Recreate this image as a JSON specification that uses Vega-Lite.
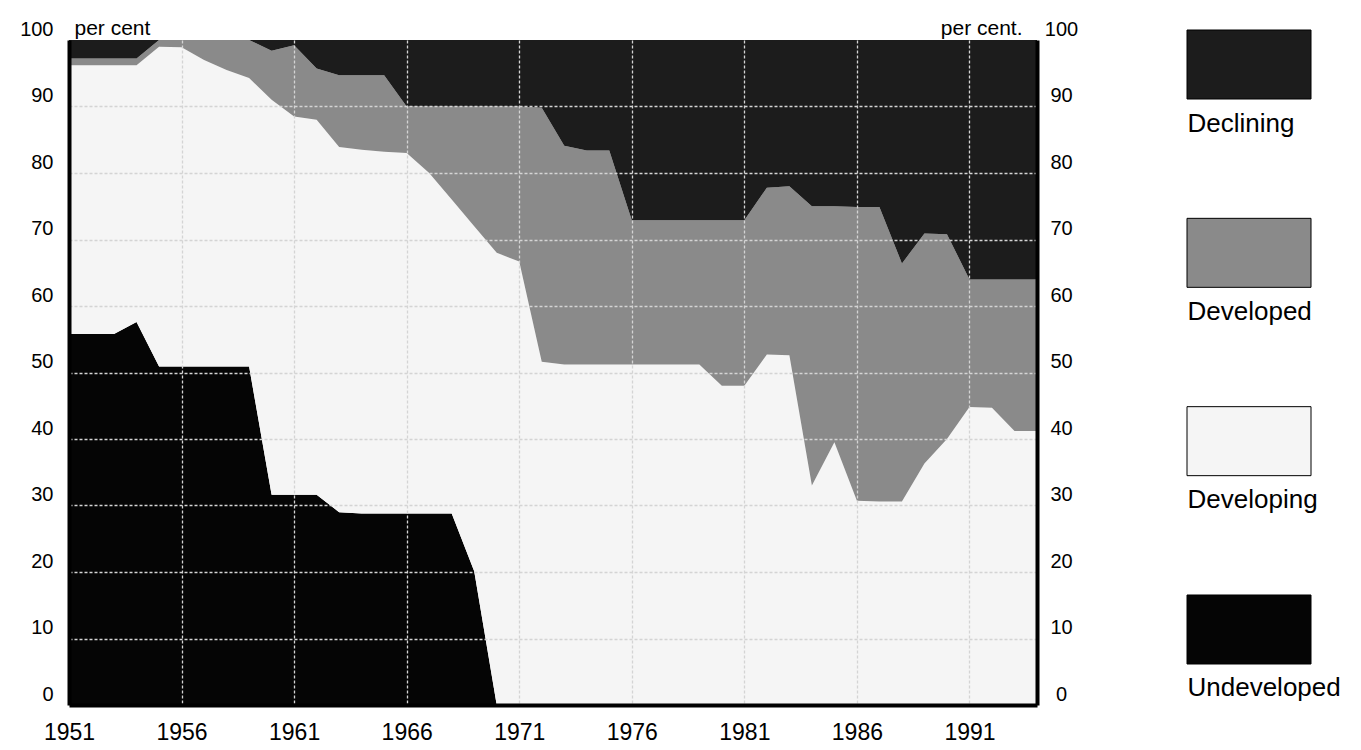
{
  "$schema": "https://vega.github.io/schema/vega-lite/v6.json",
  "padding": {"left": 19, "top": 17, "right": 5, "bottom": 5},
  "background": "white",
  "config": {"view": {"stroke": null}, "font": "Liberation Sans", "concat": {"spacing": 108}},
  "hconcat": [
    {
      "width": 968,
      "height": 665,
      "data": {"values": [
        {"year":1951,"category":"Undeveloped","value":55.8},{"year":1951,"category":"Developing","value":40.4},{"year":1951,"category":"Developed","value":1.0},{"year":1951,"category":"Declining","value":2.8},
        {"year":1952,"category":"Undeveloped","value":55.8},{"year":1952,"category":"Developing","value":40.4},{"year":1952,"category":"Developed","value":1.0},{"year":1952,"category":"Declining","value":2.8},
        {"year":1953,"category":"Undeveloped","value":55.8},{"year":1953,"category":"Developing","value":40.4},{"year":1953,"category":"Developed","value":1.0},{"year":1953,"category":"Declining","value":2.8},
        {"year":1954,"category":"Undeveloped","value":57.6},{"year":1954,"category":"Developing","value":38.6},{"year":1954,"category":"Developed","value":1.0},{"year":1954,"category":"Declining","value":2.8},
        {"year":1955,"category":"Undeveloped","value":50.9},{"year":1955,"category":"Developing","value":48.1},{"year":1955,"category":"Developed","value":1.0},{"year":1955,"category":"Declining","value":0},
        {"year":1956,"category":"Undeveloped","value":50.9},{"year":1956,"category":"Developing","value":48.0},{"year":1956,"category":"Developed","value":1.1},{"year":1956,"category":"Declining","value":0},
        {"year":1957,"category":"Undeveloped","value":50.9},{"year":1957,"category":"Developing","value":46.1},{"year":1957,"category":"Developed","value":3.0},{"year":1957,"category":"Declining","value":0},
        {"year":1958,"category":"Undeveloped","value":50.9},{"year":1958,"category":"Developing","value":44.6},{"year":1958,"category":"Developed","value":4.5},{"year":1958,"category":"Declining","value":0},
        {"year":1959,"category":"Undeveloped","value":50.9},{"year":1959,"category":"Developing","value":43.4},{"year":1959,"category":"Developed","value":5.7},{"year":1959,"category":"Declining","value":0},
        {"year":1960,"category":"Undeveloped","value":31.6},{"year":1960,"category":"Developing","value":59.4},{"year":1960,"category":"Developed","value":7.4},{"year":1960,"category":"Declining","value":1.6},
        {"year":1961,"category":"Undeveloped","value":31.6},{"year":1961,"category":"Developing","value":56.9},{"year":1961,"category":"Developed","value":10.7},{"year":1961,"category":"Declining","value":0.8},
        {"year":1962,"category":"Undeveloped","value":31.6},{"year":1962,"category":"Developing","value":56.4},{"year":1962,"category":"Developed","value":7.7},{"year":1962,"category":"Declining","value":4.3},
        {"year":1963,"category":"Undeveloped","value":29.0},{"year":1963,"category":"Developing","value":54.9},{"year":1963,"category":"Developed","value":10.8},{"year":1963,"category":"Declining","value":5.3},
        {"year":1964,"category":"Undeveloped","value":28.8},{"year":1964,"category":"Developing","value":54.7},{"year":1964,"category":"Developed","value":11.2},{"year":1964,"category":"Declining","value":5.3},
        {"year":1965,"category":"Undeveloped","value":28.8},{"year":1965,"category":"Developing","value":54.4},{"year":1965,"category":"Developed","value":11.5},{"year":1965,"category":"Declining","value":5.3},
        {"year":1966,"category":"Undeveloped","value":28.8},{"year":1966,"category":"Developing","value":54.2},{"year":1966,"category":"Developed","value":7.0},{"year":1966,"category":"Declining","value":10.0},
        {"year":1967,"category":"Undeveloped","value":28.8},{"year":1967,"category":"Developing","value":51.2},{"year":1967,"category":"Developed","value":10.0},{"year":1967,"category":"Declining","value":10.0},
        {"year":1968,"category":"Undeveloped","value":28.8},{"year":1968,"category":"Developing","value":47.2},{"year":1968,"category":"Developed","value":14.0},{"year":1968,"category":"Declining","value":10.0},
        {"year":1969,"category":"Undeveloped","value":20.1},{"year":1969,"category":"Developing","value":51.9},{"year":1969,"category":"Developed","value":18.0},{"year":1969,"category":"Declining","value":10.0},
        {"year":1970,"category":"Undeveloped","value":0},{"year":1970,"category":"Developing","value":68.0},{"year":1970,"category":"Developed","value":22.0},{"year":1970,"category":"Declining","value":10.0},
        {"year":1971,"category":"Undeveloped","value":0},{"year":1971,"category":"Developing","value":66.7},{"year":1971,"category":"Developed","value":23.3},{"year":1971,"category":"Declining","value":10.0},
        {"year":1972,"category":"Undeveloped","value":0},{"year":1972,"category":"Developing","value":51.6},{"year":1972,"category":"Developed","value":38.2},{"year":1972,"category":"Declining","value":10.2},
        {"year":1973,"category":"Undeveloped","value":0},{"year":1973,"category":"Developing","value":51.2},{"year":1973,"category":"Developed","value":32.9},{"year":1973,"category":"Declining","value":15.9},
        {"year":1974,"category":"Undeveloped","value":0},{"year":1974,"category":"Developing","value":51.2},{"year":1974,"category":"Developed","value":32.2},{"year":1974,"category":"Declining","value":16.6},
        {"year":1975,"category":"Undeveloped","value":0},{"year":1975,"category":"Developing","value":51.2},{"year":1975,"category":"Developed","value":32.2},{"year":1975,"category":"Declining","value":16.6},
        {"year":1976,"category":"Undeveloped","value":0},{"year":1976,"category":"Developing","value":51.2},{"year":1976,"category":"Developed","value":21.7},{"year":1976,"category":"Declining","value":27.1},
        {"year":1977,"category":"Undeveloped","value":0},{"year":1977,"category":"Developing","value":51.2},{"year":1977,"category":"Developed","value":21.7},{"year":1977,"category":"Declining","value":27.1},
        {"year":1978,"category":"Undeveloped","value":0},{"year":1978,"category":"Developing","value":51.2},{"year":1978,"category":"Developed","value":21.7},{"year":1978,"category":"Declining","value":27.1},
        {"year":1979,"category":"Undeveloped","value":0},{"year":1979,"category":"Developing","value":51.2},{"year":1979,"category":"Developed","value":21.7},{"year":1979,"category":"Declining","value":27.1},
        {"year":1980,"category":"Undeveloped","value":0},{"year":1980,"category":"Developing","value":48.0},{"year":1980,"category":"Developed","value":24.9},{"year":1980,"category":"Declining","value":27.1},
        {"year":1981,"category":"Undeveloped","value":0},{"year":1981,"category":"Developing","value":48.0},{"year":1981,"category":"Developed","value":24.9},{"year":1981,"category":"Declining","value":27.1},
        {"year":1982,"category":"Undeveloped","value":0},{"year":1982,"category":"Developing","value":52.7},{"year":1982,"category":"Developed","value":25.1},{"year":1982,"category":"Declining","value":22.2},
        {"year":1983,"category":"Undeveloped","value":0},{"year":1983,"category":"Developing","value":52.6},{"year":1983,"category":"Developed","value":25.4},{"year":1983,"category":"Declining","value":22.0},
        {"year":1984,"category":"Undeveloped","value":0},{"year":1984,"category":"Developing","value":33.0},{"year":1984,"category":"Developed","value":42.0},{"year":1984,"category":"Declining","value":25.0},
        {"year":1985,"category":"Undeveloped","value":0},{"year":1985,"category":"Developing","value":39.5},{"year":1985,"category":"Developed","value":35.5},{"year":1985,"category":"Declining","value":25.0},
        {"year":1986,"category":"Undeveloped","value":0},{"year":1986,"category":"Developing","value":30.7},{"year":1986,"category":"Developed","value":44.2},{"year":1986,"category":"Declining","value":25.1},
        {"year":1987,"category":"Undeveloped","value":0},{"year":1987,"category":"Developing","value":30.6},{"year":1987,"category":"Developed","value":44.3},{"year":1987,"category":"Declining","value":25.1},
        {"year":1988,"category":"Undeveloped","value":0},{"year":1988,"category":"Developing","value":30.6},{"year":1988,"category":"Developed","value":35.8},{"year":1988,"category":"Declining","value":33.6},
        {"year":1989,"category":"Undeveloped","value":0},{"year":1989,"category":"Developing","value":36.3},{"year":1989,"category":"Developed","value":34.6},{"year":1989,"category":"Declining","value":29.1},
        {"year":1990,"category":"Undeveloped","value":0},{"year":1990,"category":"Developing","value":40.0},{"year":1990,"category":"Developed","value":30.8},{"year":1990,"category":"Declining","value":29.2},
        {"year":1991,"category":"Undeveloped","value":0},{"year":1991,"category":"Developing","value":44.8},{"year":1991,"category":"Developed","value":19.2},{"year":1991,"category":"Declining","value":36.0},
        {"year":1992,"category":"Undeveloped","value":0},{"year":1992,"category":"Developing","value":44.7},{"year":1992,"category":"Developed","value":19.3},{"year":1992,"category":"Declining","value":36.0},
        {"year":1993,"category":"Undeveloped","value":0},{"year":1993,"category":"Developing","value":41.2},{"year":1993,"category":"Developed","value":22.8},{"year":1993,"category":"Declining","value":36.0},
        {"year":1994,"category":"Undeveloped","value":0},{"year":1994,"category":"Developing","value":41.2},{"year":1994,"category":"Developed","value":22.8},{"year":1994,"category":"Declining","value":36.0}
      ]},
      "layer": [
        {
          "mark": {"type": "area", "interpolate": "linear"},
          "encoding": {
            "x": {
              "field": "year", "type": "quantitative",
              "scale": {"domain": [1951, 1994], "nice": false, "zero": false},
              "axis": {
                "orient": "bottom", "title": null, "format": "d",
                "values": [1951, 1956, 1961, 1966, 1971, 1976, 1981, 1986, 1991],
                "labelFontSize": 23, "labelColor": "black", "labelPadding": 16, "labelFlush": false,
                "ticks": false, "domain": true, "domainColor": "black", "domainWidth": 4,
                "grid": true,
                "gridColor": {"condition": {"test": "datum.value === 1951", "value": "transparent"}, "value": "#d4d4d4"},
                "gridDash": [3, 2], "gridWidth": 1.3, "zindex": 1
              }
            },
            "y": {
              "field": "value", "type": "quantitative", "stack": "zero",
              "scale": {"domain": [0, 100], "nice": false},
              "axis": {
                "orient": "left", "values": [0, 10, 20, 30, 40, 50, 60, 70, 80, 90, 100],
                "title": "per cent", "titleAngle": 0, "titleAlign": "left", "titleBaseline": "alphabetic",
                "titleX": 5, "titleY": -6, "titleFontSize": 21, "titleFontWeight": "normal", "titleColor": "black",
                "labelFontSize": 20, "labelColor": "black", "labelPadding": 16, "labelBaseline": "alphabetic",
                "labelOffset": -5, "labelFlush": false,
                "ticks": false, "domain": true, "domainColor": "black", "domainWidth": 4,
                "grid": true,
                "gridColor": {"condition": {"test": "datum.value === 0 || datum.value === 100", "value": "transparent"}, "value": "#d4d4d4"},
                "gridDash": [3, 2], "gridWidth": 1.3, "zindex": 1
              }
            },
            "color": {
              "field": "category", "type": "nominal",
              "sort": ["Undeveloped", "Developing", "Developed", "Declining"],
              "scale": {"domain": ["Undeveloped", "Developing", "Developed", "Declining"], "range": ["#050505", "#f5f5f5", "#8a8a8a", "#1c1c1c"]},
              "legend": null
            }
          }
        },
        {
          "mark": {"type": "point", "opacity": 0},
          "encoding": {
            "y": {
              "field": "value", "type": "quantitative",
              "axis": {
                "orient": "right", "values": [0, 10, 20, 30, 40, 50, 60, 70, 80, 90, 100],
                "title": "per cent.", "titleAngle": 0, "titleAlign": "right", "titleBaseline": "alphabetic",
                "titleX": -15, "titleY": -6, "titleFontSize": 21, "titleFontWeight": "normal", "titleColor": "black",
                "labelFontSize": 20, "labelColor": "black", "labelPadding": 24, "labelAlign": "center",
                "labelBaseline": "alphabetic", "labelOffset": -5, "labelFlush": false,
                "ticks": false, "domain": true, "domainColor": "black", "domainWidth": 4,
                "grid": false, "zindex": 1
              }
            }
          }
        }
      ],
      "resolve": {"axis": {"y": "independent"}}
    },
    {
      "width": 124,
      "height": 634,
      "data": {"values": [
        {"category": "Declining"}, {"category": "Developed"}, {"category": "Developing"}, {"category": "Undeveloped"}
      ]},
      "mark": {"type": "rect", "stroke": "black", "strokeWidth": 1, "yOffset": -10, "y2Offset": -10},
      "encoding": {
        "y": {
          "field": "category", "type": "nominal",
          "sort": ["Declining", "Developed", "Developing", "Undeveloped"],
          "scale": {"paddingInner": 0.6336, "paddingOuter": 0},
          "axis": {
            "orient": "left", "title": null, "domain": false, "ticks": false, "grid": false,
            "labelAlign": "left", "labelBaseline": "alphabetic", "labelOffset": 57, "labelPadding": 0,
            "labelFontSize": 26, "labelColor": "black", "labelLimit": 0
          }
        },
        "color": {
          "field": "category", "type": "nominal",
          "scale": {"domain": ["Undeveloped", "Developing", "Developed", "Declining"], "range": ["#050505", "#f5f5f5", "#8a8a8a", "#1c1c1c"]},
          "legend": null
        }
      }
    }
  ]
}
